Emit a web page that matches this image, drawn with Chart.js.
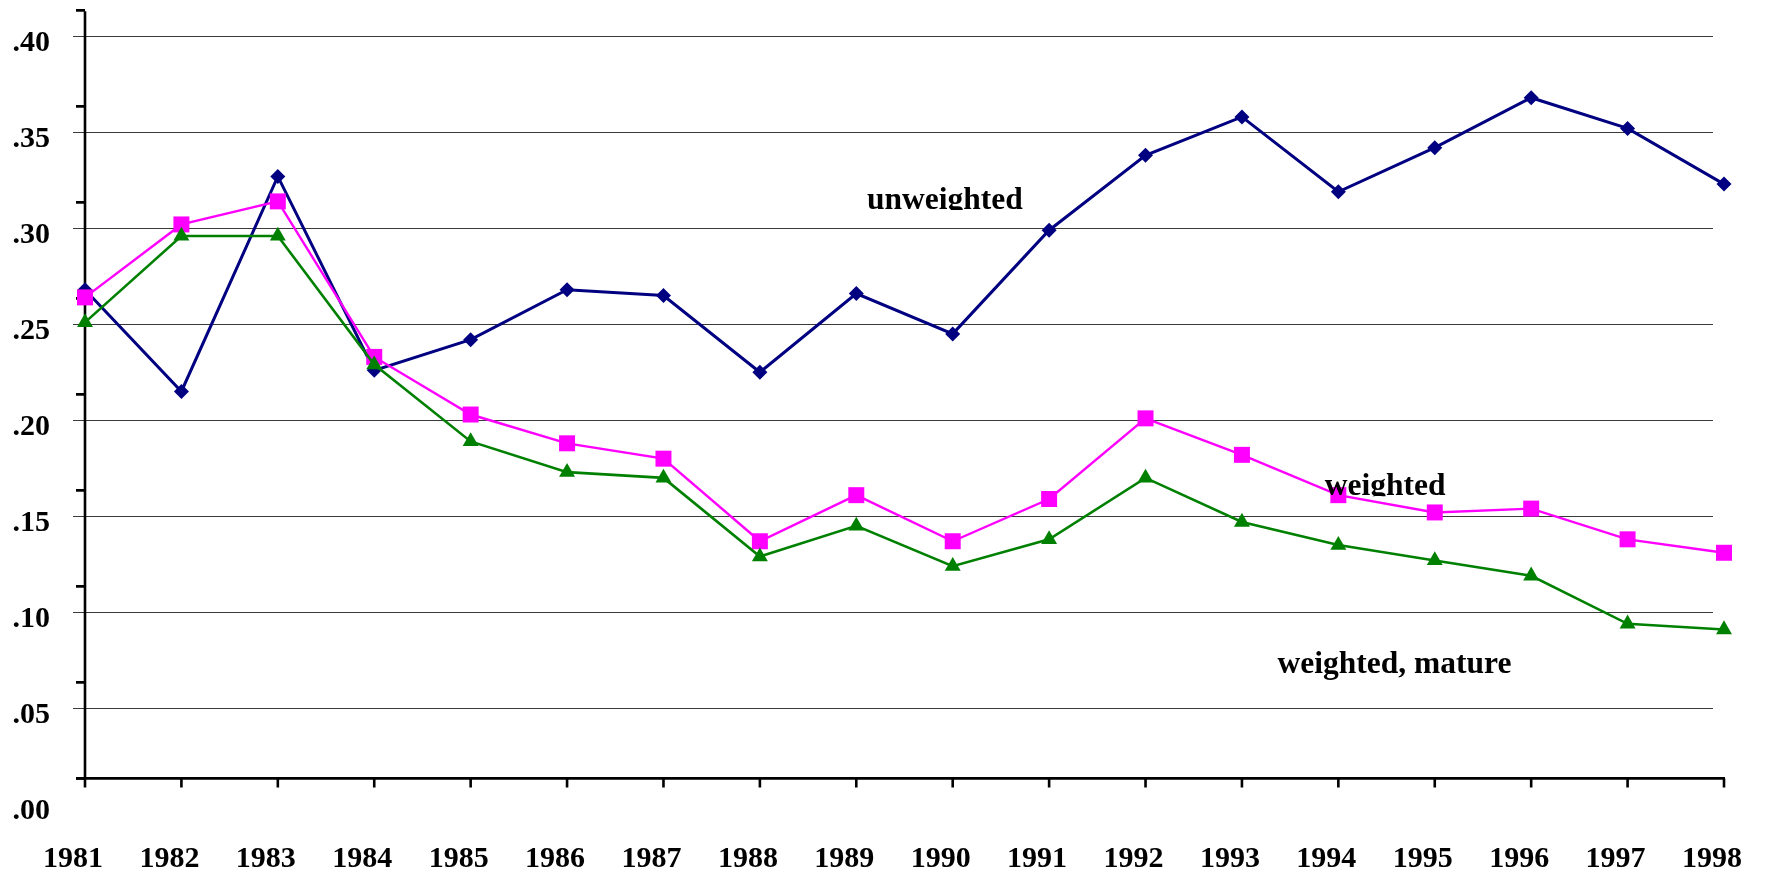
<!DOCTYPE html>
<html>
<head>
<meta charset="utf-8">
<script src="https://cdn.jsdelivr.net/npm/chart.js@4/dist/chart.umd.min.js"></script>
<style>
  html, body { margin: 0; padding: 0; background: #fff; }
  #wrap { width: 1769px; height: 878px; }
</style>
</head>
<body>
<div id="wrap"><canvas id="chart" width="1769" height="878"></canvas></div>
<script>
const years = ['1981', '1982', '1983', '1984', '1985', '1986', '1987', '1988', '1989',
  '1990', '1991', '1992', '1993', '1994', '1995', '1996', '1997', '1998'];

const unweighted = [0.268, 0.215, 0.327, 0.226, 0.242, 0.268, 0.265, 0.225, 0.266,
  0.245, 0.299, 0.338, 0.358, 0.319, 0.342, 0.368, 0.352, 0.323];

const weighted = [0.264, 0.302, 0.314, 0.233, 0.203, 0.188, 0.180, 0.137, 0.161,
  0.137, 0.159, 0.201, 0.182, 0.161, 0.152, 0.154, 0.138, 0.131];

const weightedMature = [0.251, 0.296, 0.296, 0.229, 0.189, 0.173, 0.170, 0.129, 0.145,
  0.124, 0.138, 0.170, 0.147, 0.135, 0.127, 0.119, 0.094, 0.091];

const yTicks = [0, 0.05, 0.10, 0.15, 0.20, 0.25, 0.30, 0.35, 0.40];
const yMax = 0.413;
const axisBase = 0.0135; // where the drawn x axis crosses the value axis

// text notes: label, category index, value at baseline, clipped at baseline?
const notes = [
  ['unweighted', 8.11, 0.310, true],
  ['weighted', 12.86, 0.161, true],
  ['weighted, mature', 12.37, 0.0685, false]
];

const serif = "'Liberation Serif', 'Times New Roman', serif";

function noPadding(s) {
  s.paddingTop = 0;
  s.paddingBottom = 0;
  s.paddingLeft = 0;
  s.paddingRight = 0;
}

const axesPlugin = {
  id: 'axesPlugin',
  beforeDatasetsDraw(chart) {
    const { ctx, chartArea, scales: { x, y } } = chart;
    ctx.save();
    // gridlines
    ctx.strokeStyle = '#3a3a3a';
    ctx.lineWidth = 1.2;
    yTicks.forEach(v => {
      if (v === 0) return;
      const py = Math.round(y.getPixelForValue(v)) + 0.5;
      ctx.beginPath();
      ctx.moveTo(chartArea.left - 12, py);
      ctx.lineTo(chartArea.right - 11, py);
      ctx.stroke();
    });
    // axes
    const base = y.getPixelForValue(axisBase);
    ctx.strokeStyle = '#000';
    ctx.lineWidth = 2.6;
    ctx.beginPath();
    ctx.moveTo(chartArea.left, chartArea.top);
    ctx.lineTo(chartArea.left, base);
    ctx.moveTo(chartArea.left - 9, base);
    ctx.lineTo(chartArea.right + 1, base);
    ctx.stroke();
    // value axis tick marks
    ctx.beginPath();
    yTicks.forEach(v => {
      const py = y.getPixelForValue(v + axisBase);
      ctx.moveTo(chartArea.left - 9, py);
      ctx.lineTo(chartArea.left, py);
    });
    // category tick marks
    years.forEach((yr, i) => {
      const px = x.getPixelForValue(i);
      ctx.moveTo(px, base);
      ctx.lineTo(px, base + 9);
    });
    ctx.stroke();
    ctx.restore();
  },
  afterDatasetsDraw(chart) {
    const { ctx, scales: { x, y } } = chart;
    ctx.save();
    ctx.font = 'bold 31.5px ' + serif;
    ctx.fillStyle = '#000';
    ctx.textBaseline = 'alphabetic';
    ctx.textAlign = 'left';
    notes.forEach(([text, xi, yv, clip]) => {
      const px = x.getPixelForValue(xi);
      const py = y.getPixelForValue(yv);
      ctx.save();
      if (clip) {
        ctx.beginPath();
        ctx.rect(px - 5, py - 40, 400, 41);
        ctx.clip();
      }
      ctx.fillText(text, px, py);
      ctx.restore();
    });
    ctx.restore();
  }
};

new Chart(document.getElementById('chart').getContext('2d'), {
  type: 'line',
  data: {
    labels: years,
    datasets: [
      {
        label: 'unweighted',
        data: unweighted,
        borderColor: '#000080',
        backgroundColor: '#000080',
        borderWidth: 3,
        pointStyle: 'rectRot',
        pointRadius: 7.5,
        pointBorderWidth: 0,
        tension: 0,
        clip: false,
        order: 3
      },
      {
        label: 'weighted',
        data: weighted,
        borderColor: '#ff00ff',
        backgroundColor: '#ff00ff',
        borderWidth: 2.4,
        pointStyle: 'rect',
        pointRadius: 11.3,
        pointBorderWidth: 0,
        tension: 0,
        clip: false,
        order: 2
      },
      {
        label: 'weighted, mature',
        data: weightedMature,
        borderColor: '#008000',
        backgroundColor: '#008000',
        borderWidth: 2.6,
        pointStyle: 'triangle',
        pointRadius: 9.2,
        pointBorderWidth: 0,
        tension: 0,
        clip: false,
        order: 1
      }
    ]
  },
  options: {
    responsive: false,
    animation: false,
    devicePixelRatio: 1,
    layout: { padding: { top: 9.7, right: 45, left: 0, bottom: 0 } },
    plugins: {
      legend: { display: false },
      tooltip: { enabled: false },
      title: { display: false }
    },
    scales: {
      x: {
        type: 'category',
        offset: false,
        grid: { display: false, drawTicks: false },
        border: { display: false },
        afterFit: s => { s.height = 73.7; noPadding(s); },
        ticks: {
          color: '#000',
          font: { family: serif, size: 30, weight: 'bold' },
          padding: 37,
          labelOffset: -12,
          maxRotation: 0,
          autoSkip: false
        }
      },
      y: {
        min: 0,
        max: yMax,
        grid: { display: false, drawTicks: false },
        border: { display: false },
        afterFit: s => { s.width = 85; noPadding(s); },
        afterBuildTicks: s => { s.ticks = yTicks.map(v => ({ value: v })); },
        ticks: {
          color: '#000',
          font: { family: serif, size: 30, weight: 'bold' },
          padding: 35,
          labelOffset: 7,
          callback: v => v.toFixed(2).replace(/^0/, '')
        }
      }
    }
  },
  plugins: [axesPlugin]
});
</script>
</body>
</html>
